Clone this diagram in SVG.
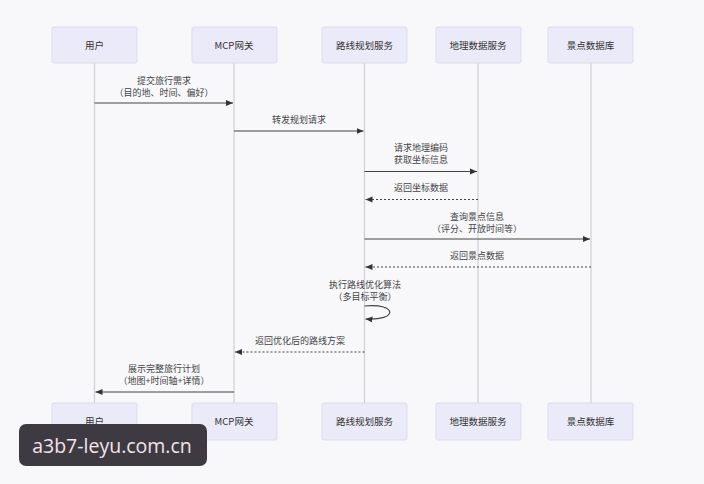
<svg xmlns="http://www.w3.org/2000/svg" width="704" height="484" viewBox="0 0 704 484">
<defs>
<marker id="ah" markerWidth="8" markerHeight="8" refX="7" refY="4" orient="auto" markerUnits="userSpaceOnUse">
<path d="M0,1 L7,4 L0,7 Z" fill="#333"/>
</marker>
<style>
.box{fill:#eaeaf8;stroke:#dcdcec;stroke-width:1}
.lbl{font-family:"Noto Sans CJK SC","Liberation Sans",sans-serif;font-size:9.5px;fill:#333;text-anchor:middle}
.msg{font-family:"Noto Sans CJK SC","Liberation Sans",sans-serif;font-size:9px;fill:#444;text-anchor:middle}
.life{stroke:#cfcfd6;stroke-width:1.2}
.solid{stroke:#444;stroke-width:1.2;fill:none;marker-end:url(#ah)}
.dash{stroke:#444;stroke-width:1.2;fill:none;stroke-dasharray:2,2;marker-end:url(#ah)}
</style>
</defs>
<rect x="0" y="0" width="704" height="484" fill="#f8f8fb"/>
<g id="lifelines">
<line class="life" x1="94.5" y1="63" x2="94.5" y2="403"/>
<line class="life" x1="234" y1="63" x2="234" y2="403"/>
<line class="life" x1="364.5" y1="63" x2="364.5" y2="403"/>
<line class="life" x1="478" y1="63" x2="478" y2="403"/>
<line class="life" x1="591" y1="63" x2="591" y2="403"/>
</g>
<g id="user">
<rect class="box" x="52" y="27" width="85" height="36" rx="2"/>
<text class="lbl" x="94.5" y="48.5">用户</text>
<rect class="box" x="52" y="403" width="85" height="37" rx="2"/>
<text class="lbl" x="94.5" y="425">用户</text>
</g>
<g id="mcp">
<rect class="box" x="192" y="27" width="85" height="36" rx="2"/>
<text class="lbl" x="234" y="48.5">MCP网关</text>
<rect class="box" x="192" y="403" width="85" height="37" rx="2"/>
<text class="lbl" x="234" y="425">MCP网关</text>
</g>
<g id="route">
<rect class="box" x="322" y="27" width="85" height="36" rx="2"/>
<text class="lbl" x="364.5" y="48.5">路线规划服务</text>
<rect class="box" x="322" y="403" width="85" height="37" rx="2"/>
<text class="lbl" x="364.5" y="425">路线规划服务</text>
</g>
<g id="geo">
<rect class="box" x="436" y="27" width="85" height="36" rx="2"/>
<text class="lbl" x="478" y="48.5">地理数据服务</text>
<rect class="box" x="436" y="403" width="85" height="37" rx="2"/>
<text class="lbl" x="478" y="425">地理数据服务</text>
</g>
<g id="poi">
<rect class="box" x="548" y="27" width="85" height="36" rx="2"/>
<text class="lbl" x="590.5" y="48.5">景点数据库</text>
<rect class="box" x="548" y="403" width="85" height="37" rx="2"/>
<text class="lbl" x="590.5" y="425">景点数据库</text>
</g>
<g id="connectors">
<line class="solid" x1="94.5" y1="103" x2="233" y2="103"/>
<text class="msg" x="164" y="83.5">提交旅行需求</text>
<text class="msg" x="164" y="95.5">（目的地、时间、偏好）</text>
<line class="solid" x1="234" y1="131" x2="363.5" y2="131"/>
<text class="msg" x="299" y="122.5">转发规划请求</text>
<line class="solid" x1="364.5" y1="171.5" x2="477" y2="171.5"/>
<text class="msg" x="421" y="151">请求地理编码</text>
<text class="msg" x="421" y="163">获取坐标信息</text>
<line class="dash" x1="478" y1="199.5" x2="365.5" y2="199.5"/>
<text class="msg" x="421" y="191">返回坐标数据</text>
<line class="solid" x1="364.5" y1="239" x2="590" y2="239"/>
<text class="msg" x="477" y="219.5">查询景点信息</text>
<text class="msg" x="477" y="231.5">（评分、开放时间等）</text>
<line class="dash" x1="591" y1="267" x2="365.5" y2="267"/>
<text class="msg" x="477" y="259">返回景点数据</text>
<path class="solid" d="M364.5,306 C398,303 398,321 365.5,319"/>
<text class="msg" x="365" y="287.5">执行路线优化算法</text>
<text class="msg" x="365" y="299.5">（多目标平衡）</text>
<line class="dash" x1="364.5" y1="352" x2="235" y2="352"/>
<text class="msg" x="300" y="344">返回优化后的路线方案</text>
<line class="solid" x1="234" y1="392" x2="95.5" y2="392"/>
<text class="msg" x="164" y="371.5">展示完整旅行计划</text>
<text class="msg" x="164" y="383.5">（地图+时间轴+详情）</text>
</g>
<g id="watermark">
<rect x="19" y="424" width="188" height="42" rx="7" fill="#3e3a42"/>
<text x="112" y="453" font-family="Open Sans,'DejaVu Sans',sans-serif" font-size="19.5" fill="#f3e4ea" text-anchor="middle">a3b7-leyu.com.cn</text>
</g>
</svg>
